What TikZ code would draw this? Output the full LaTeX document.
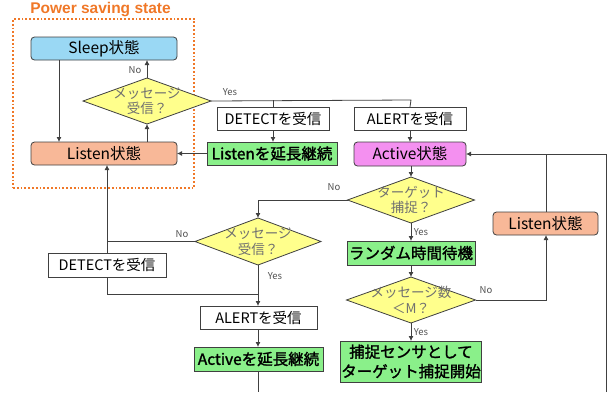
\documentclass[tikz,border=0pt]{standalone}
\usepackage{fontspec}
\setmainfont{Noto Sans CJK JP}[AutoFakeBold=1.6]
\newfontfamily\titlefont{Liberation Sans}
\usetikzlibrary{shapes.geometric,arrows.meta}
\definecolor{linec}{HTML}{404040}
\definecolor{sleepc}{HTML}{9AD8F4}
\definecolor{listenc}{HTML}{F8B898}
\definecolor{activec}{HTML}{F490F0}
\definecolor{greenc}{HTML}{8AF08A}
\definecolor{yellowc}{HTML}{FFFF8C}
\definecolor{orangec}{HTML}{F07828}
\definecolor{dtextc}{HTML}{707070}
\definecolor{labc}{HTML}{505050}
\tikzset{
  x=1pt,y=-1pt,
  every node/.style={inner sep=0pt,outer sep=0pt},
  state/.style={draw=linec,line width=0.8pt,rounded corners=3.5pt,font=\fontsize{15.5}{17}\selectfont,align=center},
  wbox/.style={draw=linec,line width=0.8pt,fill=white,font=\fontsize{14.5}{16}\selectfont,align=center},
  gbox/.style={draw=linec,line width=0.8pt,fill=greenc,font=\fontsize{15.5}{19.5}\selectfont\bfseries,align=center},
  dia/.style={diamond,draw=linec,line width=0.8pt,fill=yellowc},
  dtext/.style={text=dtextc,font=\fontsize{13.5}{15.5}\selectfont,align=center},
  lab/.style={text=labc,font=\fontsize{9.5}{10}\selectfont},
  conn/.style={draw=linec,line width=0.8pt},
  arr/.style={conn,-{Latex[length=5pt,width=5pt]}}
}
\begin{document}
\begin{tikzpicture}
\useasboundingbox (0,0) rectangle (616,392);
% power saving frame
\node[draw=orangec,dotted,line width=1.8pt,minimum width=181pt,minimum height=169pt] (frame) at (103.5,103.5) {};
\node[text=orangec,font=\titlefont\fontsize{15.5}{17}\selectfont\bfseries] (title) at (100.5,9.5) {Power saving state};
% nodes
\node[state,fill=sleepc,minimum width=146pt,minimum height=23pt] (sleep) at (104,48.5) {Sleep状態};
\node[state,fill=listenc,minimum width=146pt,minimum height=23pt] (listen) at (104,153.5) {Listen状態};
\node[dia,minimum width=128pt,minimum height=46pt] (d1) at (147,101) {};
\node[dtext] (d1t) at (d1) {メッセージ\\受信？};
\node[wbox,minimum width=112pt,minimum height=23pt] (det1) at (273,118.5) {DETECTを受信};
\node[wbox,minimum width=112pt,minimum height=23pt] (alert1) at (410,118.5) {ALERTを受信};
\node[gbox,minimum width=130pt,minimum height=23pt] (lext) at (272,153.5) {Listenを延長継続};
\node[state,fill=activec,minimum width=112pt,minimum height=24pt] (active) at (410,154) {Active状態};
\node[dia,minimum width=127pt,minimum height=46pt] (d2) at (411,200) {};
\node[dtext] (d2t) at (d2) {ターゲット\\捕捉？};
\node[dia,minimum width=126pt,minimum height=47pt] (d3) at (258,241.5) {};
\node[dtext] (d3t) at (d3) {メッセージ\\受信？};
\node[gbox,minimum width=128pt,minimum height=24pt] (rand) at (411,253) {ランダム時間待機};
\node[dia,minimum width=129pt,minimum height=46pt] (d4) at (411,300) {};
\node[dtext] (d4t) at (d4) {メッセージ数\\＜M？};
\node[gbox,minimum width=141pt,minimum height=41pt] (final) at (411,361.5) {捕捉センサとして\\ターゲット捕捉開始};
\node[state,fill=listenc,minimum width=105pt,minimum height=23pt] (listen2) at (545.5,223.5) {Listen状態};
\node[gbox,minimum width=129pt,minimum height=24pt] (aext) at (258.5,359) {Activeを延長継続};
\node[wbox,minimum width=117pt,minimum height=23pt] (alert2) at (258.5,317.5) {ALERTを受信};
% coordinates
\coordinate (ysplit) at (411,100);
\coordinate (jd) at (546,154);
\coordinate (rb) at (606,392);
\coordinate (ab) at (258,392);
\coordinate (lj) at (258,294);
% connectors
\draw[arr] (sleep.south -| 59,0) -- (listen.north -| 59,0);
\draw[arr] (listen.north -| d1) -- (d1.south);
\draw[arr] (d1.north) -- (sleep.south -| d1);
\node[lab] (no1) at (135,70.5) {No};
\draw[conn] (d1.east) -- (ysplit) -- (alert1.north);
\node[lab] (yes1) at (230,92.5) {Yes};
\draw[conn] (det1.north |- ysplit) -- (det1.north);
\draw[arr] (det1.south) -- (lext.north -| det1.south);
\draw[arr] (alert1.south) -- (active.north -| alert1.south);
\draw[arr] (lext.west) -- (listen.east);
\draw[arr] (active.south -| d2) -- (d2.north);
\draw[arr] (d2.west) -| (d3.north);
\node[lab] (no2) at (334,187) {No};
\draw[arr] (d2.south) -- (rand.north);
\node[lab] (yes2) at (421,232) {Yes};
\draw[arr] (rand.south) -- (d4.north);
\draw[arr] (d4.south) -- (final.north);
\node[lab] (yes3) at (421,332) {Yes};
\draw[arr] (d4.east) -| (listen2.south -| jd);
\node[lab] (no3) at (486,290) {No};
\draw[conn] (listen2.north -| jd) -- (jd);
\draw[arr] (rb) |- (active.east);
\draw[conn] (d3.west) -- (107,241.5);
\node[lab] (no4) at (182,234) {No};
\draw[conn] (d3.south) -- (lj);
\draw[arr] (lj) -| (listen.south -| 107,0);
\draw[arr] (lj) -- (alert2.north -| lj);
\node[lab] (yes4) at (275,276) {Yes};
\draw[arr] (alert2.south -| lj) -- (aext.north -| lj);
\draw[conn] (aext.south -| ab) -- (ab);
\node[wbox,minimum width=118pt,minimum height=24pt] (det2) at (107,265) {DETECTを受信};
\end{tikzpicture}
\end{document}
